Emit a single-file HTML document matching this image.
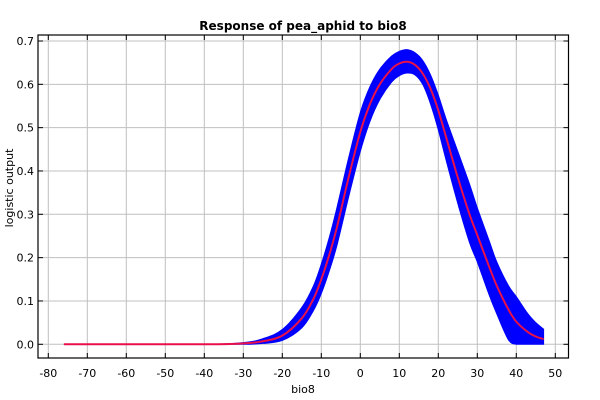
<!DOCTYPE html>
<html><head><meta charset="utf-8"><style>
html,body{margin:0;padding:0;background:#fff;}
svg{display:block;font-family:"DejaVu Sans","Liberation Sans",sans-serif;}
</style></head><body>
<svg id="chart" width="600" height="400">
<rect x="0" y="0" width="600" height="400" fill="#fff"/>
<g id="grid"></g>
<g id="series"></g>
<rect x="38" y="35" width="530.5" height="323" fill="none" stroke="#000" stroke-width="1.2"/>
<g id="ticks"></g>
<text x="303" y="30" text-anchor="middle" font-size="12" font-weight="bold">Response of pea_aphid to bio8</text>
<text x="303" y="393" text-anchor="middle" font-size="11">bio8</text>
<text transform="translate(13,188) rotate(-90)" text-anchor="middle" font-size="11">logistic output</text>
</svg>
<script>
const xs    = [-76,-40,-30,-25,-20,-15,-12,-10,-8,-6,-3,0,2.5,5,8,10,12,14,16,18,20,22,25,28,30,33,35,38,40,43,45,47];
const meanV = [0,0,0.002,0.007,0.02,0.06,0.105,0.15,0.205,0.27,0.385,0.49,0.555,0.6,0.635,0.648,0.652,0.645,0.625,0.59,0.54,0.478,0.385,0.3,0.252,0.18,0.135,0.08,0.052,0.028,0.018,0.012];
const upperV= [0,0,0.004,0.013,0.034,0.085,0.135,0.185,0.245,0.315,0.43,0.535,0.595,0.635,0.665,0.676,0.68,0.673,0.655,0.622,0.575,0.52,0.445,0.37,0.315,0.24,0.19,0.135,0.11,0.07,0.05,0.035];
const lowerV= [0,0,0,0.002,0.009,0.038,0.078,0.117,0.168,0.228,0.34,0.445,0.515,0.565,0.605,0.62,0.626,0.622,0.6,0.555,0.495,0.425,0.325,0.235,0.19,0.115,0.07,0.01,0,0,0,0];
const xTicks = [-80,-70,-60,-50,-40,-30,-20,-10,0,10,20,30,40,50];
const yTicks = [0.0,0.1,0.2,0.3,0.4,0.5,0.6,0.7];

const L=38,R=568.5,T=35,B=358;
function sx(v){return 48.3+(v+80)*3.9;}
function sy(v){return 344.3-v*433.3;}
const NS="http://www.w3.org/2000/svg";
function mk(tag,attrs,parent){const e=document.createElementNS(NS,tag);for(const k in attrs)e.setAttribute(k,attrs[k]);parent.appendChild(e);return e;}
function smooth(pts,start){
  let d=(start?'M':'L')+pts[0][0].toFixed(2)+','+pts[0][1].toFixed(2);
  for(let i=0;i<pts.length-1;i++){
    const p0=pts[Math.max(i-1,0)],p1=pts[i],p2=pts[i+1],p3=pts[Math.min(i+2,pts.length-1)];
    const c1=[p1[0]+(p2[0]-p0[0])/6,p1[1]+(p2[1]-p0[1])/6];
    const c2=[p2[0]-(p3[0]-p1[0])/6,p2[1]-(p3[1]-p1[1])/6];
    c1[1]=Math.min(c1[1],sy(0));c2[1]=Math.min(c2[1],sy(0));
    d+='C'+c1[0].toFixed(2)+','+c1[1].toFixed(2)+' '+c2[0].toFixed(2)+','+c2[1].toFixed(2)+' '+p2[0].toFixed(2)+','+p2[1].toFixed(2);
  }
  return d;
}
const grid=document.getElementById('grid'),ticks=document.getElementById('ticks'),series=document.getElementById('series');
xTicks.forEach(t=>{
  const x=sx(t);
  const g=mk('line',{x1:x,x2:x,y1:T,y2:B,stroke:'#c0c0c0','stroke-width':1},grid);
  
  
  mk('line',{x1:x,x2:x,y1:B,y2:B-5,stroke:'#000'},ticks);
  mk('line',{x1:x,x2:x,y1:T,y2:T+5,stroke:'#000'},ticks);
  const tx=mk('text',{x:x,y:B+19,'text-anchor':'middle','font-size':11},ticks);
  tx.textContent=String(t);
  
  
});
yTicks.forEach(t=>{
  const y=sy(t);
  const g=mk('line',{x1:L,x2:R,y1:y,y2:y,stroke:'#c0c0c0','stroke-width':1},grid);
  
  
  mk('line',{x1:L,x2:L+5,y1:y,y2:y,stroke:'#000'},ticks);
  mk('line',{x1:R,x2:R-5,y1:y,y2:y,stroke:'#000'},ticks);
  const tx=mk('text',{x:L-4,y:y+4,'text-anchor':'end','font-size':11},ticks);
  tx.textContent=t.toFixed(1);
  
  
});
const up=xs.map((x,i)=>[sx(x),sy(upperV[i])]);
const lo=xs.map((x,i)=>[sx(x),sy(Math.max(0,lowerV[i]))]).reverse();
let d=smooth(up,true)+smooth(lo,false)+'Z';
const band=mk('path',{d:d,fill:'#0000ff',stroke:'#0000ff','stroke-width':1},series);


const mp=xs.map((x,i)=>[sx(x),sy(meanV[i])]);
const line=mk('path',{d:smooth(mp,true),fill:'none',stroke:'#e8104a','stroke-width':2,'stroke-linejoin':'round'},series);


</script>
</body></html>
